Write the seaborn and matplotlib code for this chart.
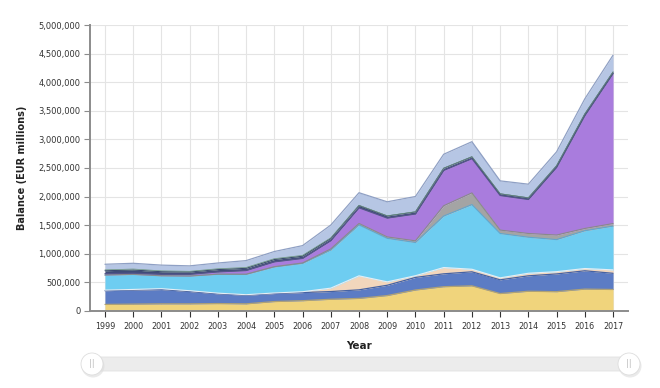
import numpy as np
import pandas as pd
import matplotlib
matplotlib.use("Agg")
import matplotlib.pyplot as plt
import seaborn as sns
from matplotlib.patches import FancyBboxPatch, Circle
from matplotlib.ticker import FuncFormatter, MultipleLocator

years = list(range(1999, 2018))

gold = [115000, 120000, 125000, 125000, 130000, 125000, 165000, 180000, 205000, 220000,
        270000, 367000, 425000, 440000, 305000, 345000, 338000, 383000, 376000]
fx_non_euro = [240000, 245000, 250000, 215000, 170000, 150000, 140000, 142000, 135000, 150000,
               180000, 220000, 225000, 245000, 240000, 270000, 310000, 320000, 283000]
fx_euro = [10000, 12000, 15000, 15000, 12000, 10000, 10000, 15000, 60000, 245000,
           60000, 30000, 110000, 45000, 35000, 45000, 40000, 40000, 60000]
lending = [262000, 262000, 225000, 255000, 330000, 355000, 455000, 495000, 665000, 890000,
           760000, 580000, 900000, 1130000, 775000, 630000, 560000, 660000, 765000]
other_claims = [3000, 2000, 2000, 2000, 2000, 3000, 5000, 8000, 20000, 25000,
                25000, 30000, 180000, 205000, 60000, 65000, 80000, 40000, 45000]
securities = [22000, 20000, 25000, 30000, 40000, 65000, 85000, 80000, 145000, 275000,
              330000, 470000, 620000, 600000, 605000, 595000, 1185000, 1975000, 2625000]
gov_debt = [52000, 55000, 45000, 40000, 40000, 38000, 40000, 38000, 37000, 38000,
            36000, 35000, 35000, 30000, 28000, 27000, 25000, 26000, 23000]
other_green = [15000, 18000, 15000, 12000, 15000, 15000, 15000, 15000, 12000, 6000,
               4000, 4000, 3000, 3000, 3000, 3000, 3000, 3000, 3000]
other_assets = [98000, 100000, 100000, 95000, 100000, 120000, 125000, 170000, 223000, 219000,
                244000, 266000, 242000, 262000, 224000, 237000, 242000, 262000, 292000]

series = [gold, fx_non_euro, fx_euro, lending, other_claims, securities, gov_debt, other_green, other_assets]
fills = ["#f0d47c", "#5c7cc4", "#f2d6bc", "#6ecdf1", "#a4a4a4", "#a97cdd", "#3f4c78", "#6a957c", "#b6c6e4"]
edges = ["#b0a274", "#4662a2", "#e6eef4", "#62a6cc", "#8a8a8a", "#55558a", "#3a4670", "#6a957c", "#8fa0c4"]
widths = [0.9, 0.9, 0.8, 0.8, 0.8, 0.9, 0.7, 0.5, 0.9]

sns.set_theme(style="whitegrid")
plt.rcParams['font.family'] = ['DejaVu Sans']

fig = plt.figure(figsize=(6.6, 3.88), dpi=100)
ax = fig.add_axes([90/660, 1-311/388, (628-90)/660, (311-25)/388])

ax.stackplot(years, *series, colors=fills, linewidth=0, zorder=2)
cum = np.cumsum(np.array(series), axis=0)
for c, ec, lw in zip(cum, edges, widths):
    sns.lineplot(x=years, y=c, ax=ax, color=ec, linewidth=lw, zorder=3)

ax.set_xlim(1998.47, 2017.53)
ax.set_ylim(0, 5000000)
ax.set_xticks(years)
ax.yaxis.set_major_locator(MultipleLocator(500000))
ax.yaxis.set_major_formatter(FuncFormatter(lambda v, p: f"{int(v):,}"))

ax.grid(True, color="#e4e4e4", linewidth=0.8)
ax.set_axisbelow(True)
ax.set_facecolor("white")
for s in ["top", "right"]:
    ax.spines[s].set_visible(False)
for s in ["left", "bottom"]:
    ax.spines[s].set_visible(True)
    ax.spines[s].set_color("#8c8c8c")
    ax.spines[s].set_linewidth(1.4)

ax.tick_params(axis="y", which="both", left=True, length=4, width=0.8, color="#8c8c8c",
               labelsize=6, labelcolor="#333333", pad=3)
ax.tick_params(axis="x", which="both", bottom=True, length=4, width=0.8, color="#333333",
               labelsize=5.8, labelcolor="#333333", pad=4)

ax.set_ylabel("Balance (EUR millions)", fontsize=7, fontweight="bold", color="#222222", labelpad=8)
ax.set_xlabel("Year", fontsize=7.5, fontweight="bold", color="#222222", labelpad=7)

# slider decoration
ov = fig.add_axes([0, 0, 1, 1], zorder=5)
ov.set_xlim(0, 660)
ov.set_ylim(388, 0)
ov.axis("off")
ov.patch.set_alpha(0)
ov.add_patch(FancyBboxPatch((92, 357), 538, 14, boxstyle="round,pad=0,rounding_size=7",
                            facecolor="#ececec", edgecolor="#e2e2e2", linewidth=0.6))
for cx in (92, 629):
    ov.add_patch(Circle((cx + 1, 366), 11.5, facecolor="#dcdcdc", edgecolor="none", alpha=0.6))
    ov.add_patch(Circle((cx, 364), 11, facecolor="white", edgecolor="#dddddd", linewidth=0.6))
    ov.text(cx, 364, "||", ha="center", va="center", fontsize=6, color="#c0c0c0")

fig.savefig("out.png", dpi=100)
